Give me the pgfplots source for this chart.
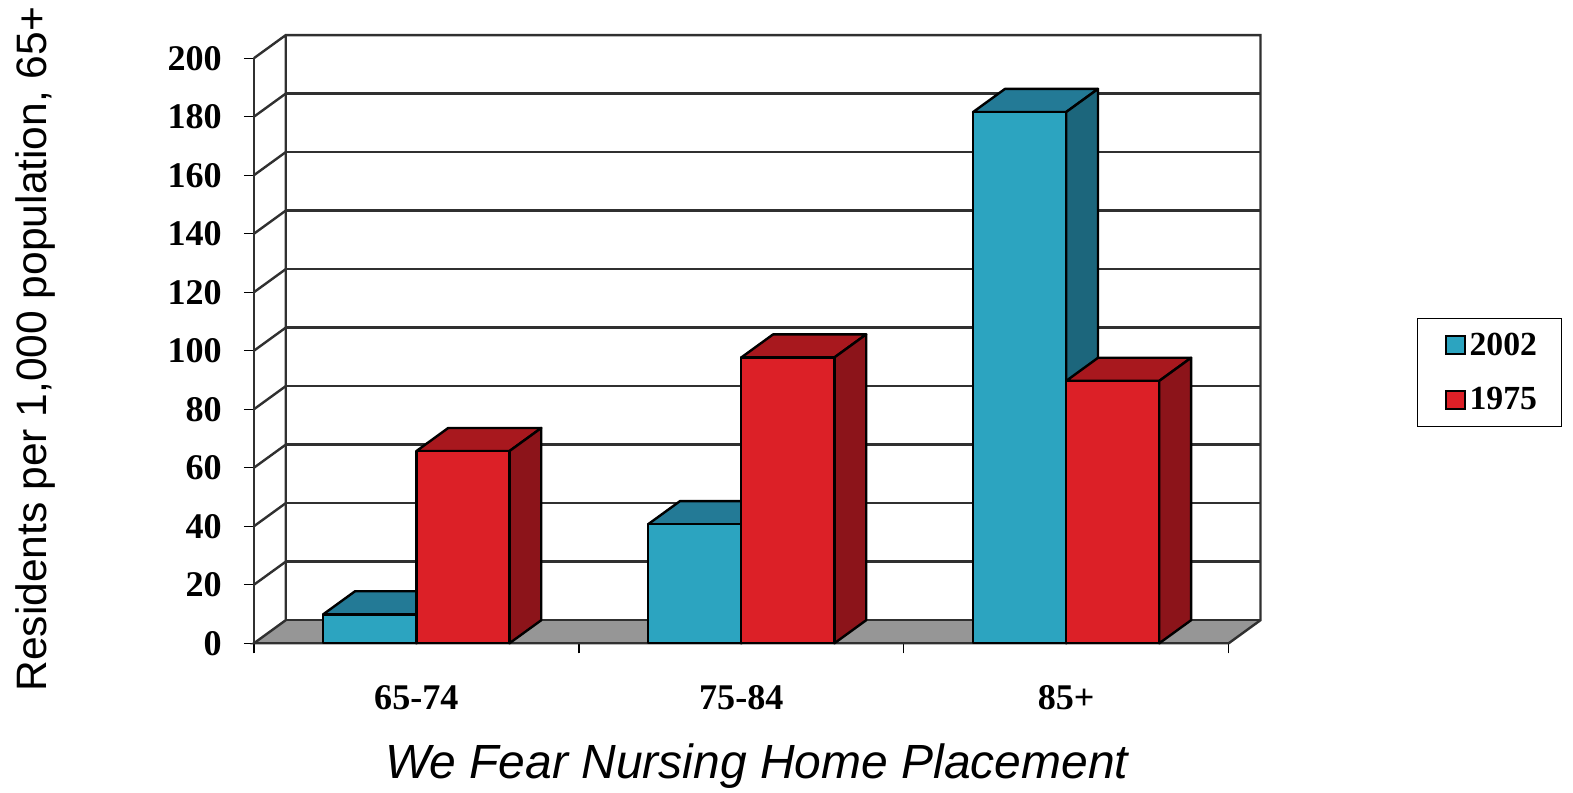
\documentclass[border=0pt]{standalone}
\usepackage{fontspec}
\setmainfont{Liberation Serif}
\newfontfamily\arialfont{Liberation Sans}
\usepackage{pgfplots}
\pgfplotsset{compat=1.18}

\definecolor{bluefront}{HTML}{2CA4C0}
\definecolor{bluetop}{HTML}{237A96}
\definecolor{blueside}{HTML}{1C667C}
\definecolor{redfront}{HTML}{DC2027}
\definecolor{redtop}{HTML}{A8181E}
\definecolor{redside}{HTML}{8C141A}
\definecolor{floorgray}{HTML}{969696}
\definecolor{wallline}{HTML}{303030}

% depth of the fake 3D in data units
\def\dx{0.098}
\def\dy{7.9}
\def\bw{0.2865}

% args: left edge, value, front, top, side
\newcommand{\threedbar}[5]{%
  \pgfmathsetmacro{\xa}{#1}%
  \pgfmathsetmacro{\xb}{#1+\bw}%
  \pgfmathsetmacro{\xc}{#1+\dx}%
  \pgfmathsetmacro{\xd}{#1+\bw+\dx}%
  \pgfmathsetmacro{\yt}{#2+\dy}%
  \addplot[barface,fill=#4] coordinates {(\xa,#2) (\xc,\yt) (\xd,\yt) (\xb,#2)} --cycle;
  \addplot[barface,fill=#5] coordinates {(\xb,0) (\xd,\dy) (\xd,\yt) (\xb,#2)} --cycle;
  \addplot[barface,fill=#3] coordinates {(\xa,0) (\xa,#2) (\xb,#2) (\xb,0)} --cycle;
}

\begin{document}%
\begin{tikzpicture}[x=1pt,y=1pt]%
\useasboundingbox (-126.5,-74.5) rectangle (657.2,320.5);
\begin{axis}[
    at={(0,0)},
    anchor=south west,
    scale only axis,
    width=501.5pt,
    height=303pt,
    xmin=0, xmax=3.098,
    ymin=0, ymax=207.9,
    clip=false,
    axis line style={draw=none},
    xtick={0.5,1.5,2.5},
    xticklabels={65-74,75-84,85+},
    minor xtick={0,1,2,3},
    ytick={0,20,...,200},
    tick align=outside,
    xtick pos=bottom,
    ytick pos=left,
    major tick length=5pt,
    minor tick length=5pt,
    major x tick style={draw=none},
    every tick/.style={black,line width=0.7pt},
    minor tick style={black,line width=0.7pt},
    /pgf/number format/assume math mode=true,
    tick label style={font=\fontsize{18}{21}\selectfont\bfseries},
    yticklabel style={xshift=-7.5pt},
    xticklabel style={yshift=-12.5pt},
    xlabel={We Fear Nursing Home Placement},
    ylabel={Residents per 1,000 population, 65+},
    xlabel style={font=\arialfont\itshape\fontsize{23.9}{28}\selectfont,at={(axis description cs:0.4995,-0.2013)},anchor=center},
    ylabel style={font=\arialfont\fontsize{21.2}{24}\selectfont,at={(axis description cs:-0.2173,0.4836)},anchor=center,rotate=0},
    wall/.style={wallline,line width=1.2pt,line join=miter,forget plot},
    barface/.style={draw=black,line width=1.2pt,line join=round,forget plot},
    legend cell align=left,
    legend image code/.code={%
      \path[draw=none,fill=none] (0pt,-5pt) rectangle (13.5pt,5pt);
      \draw[#1,line width=0.9pt] (4pt,-4.4pt) rectangle (13.5pt,4.6pt);},
    legend style={
      at={(axis description cs:1.1555,0.5347)},anchor=north west,
      draw=black,line width=0.5pt,
      inner xsep=10pt,inner ysep=5pt,
      row sep=10.5pt,
      font=\fontsize{16.8}{19}\selectfont\bfseries,
      /tikz/every even column/.append style={column sep=0pt},
    },
]
% floor
\addplot[fill=floorgray,draw=none,forget plot] coordinates {(0,0) (3,0) (3.098,7.9) (0.098,7.9)} --cycle;

% back wall: horizontal lines, side diagonals, right edge
\addplot[wall] coordinates {(0.098,27.9) (3.098,27.9)};
\addplot[wall] coordinates {(0.098,47.9) (3.098,47.9)};
\addplot[wall] coordinates {(0.098,67.9) (3.098,67.9)};
\addplot[wall] coordinates {(0.098,87.9) (3.098,87.9)};
\addplot[wall] coordinates {(0.098,107.9) (3.098,107.9)};
\addplot[wall] coordinates {(0.098,127.9) (3.098,127.9)};
\addplot[wall] coordinates {(0.098,147.9) (3.098,147.9)};
\addplot[wall] coordinates {(0.098,167.9) (3.098,167.9)};
\addplot[wall] coordinates {(0.098,187.9) (3.098,187.9)};
\addplot[wall] coordinates {(0,200) (0.098,207.9) (3.098,207.9) (3.098,7.9) (3,0) (0,0) (0.098,7.9) (0.098,207.9)};
\addplot[wall] coordinates {(0,0) (0,200)};
\addplot[wall] coordinates {(0,20) (0.098,27.9)};
\addplot[wall] coordinates {(0,40) (0.098,47.9)};
\addplot[wall] coordinates {(0,60) (0.098,67.9)};
\addplot[wall] coordinates {(0,80) (0.098,87.9)};
\addplot[wall] coordinates {(0,100) (0.098,107.9)};
\addplot[wall] coordinates {(0,120) (0.098,127.9)};
\addplot[wall] coordinates {(0,140) (0.098,147.9)};
\addplot[wall] coordinates {(0,160) (0.098,167.9)};
\addplot[wall] coordinates {(0,180) (0.098,187.9)};
\addplot[wall] coordinates {(0.098,7.9) (3.098,7.9)};

% bars, blue first so the red one sits in front of its side
\threedbar{0.2134}{9.9}{bluefront}{bluetop}{blueside}
\threedbar{0.5}{65.7}{redfront}{redtop}{redside}
\threedbar{1.2134}{40.7}{bluefront}{bluetop}{blueside}
\threedbar{1.5}{97.7}{redfront}{redtop}{redside}
\threedbar{2.2134}{181.6}{bluefront}{bluetop}{blueside}
\threedbar{2.5}{89.7}{redfront}{redtop}{redside}

\addlegendimage{draw=black,fill=bluefront}
\addlegendentry{2002}
\addlegendimage{draw=black,fill=redfront}
\addlegendentry{1975}
\end{axis}
\end{tikzpicture}%
\end{document}
